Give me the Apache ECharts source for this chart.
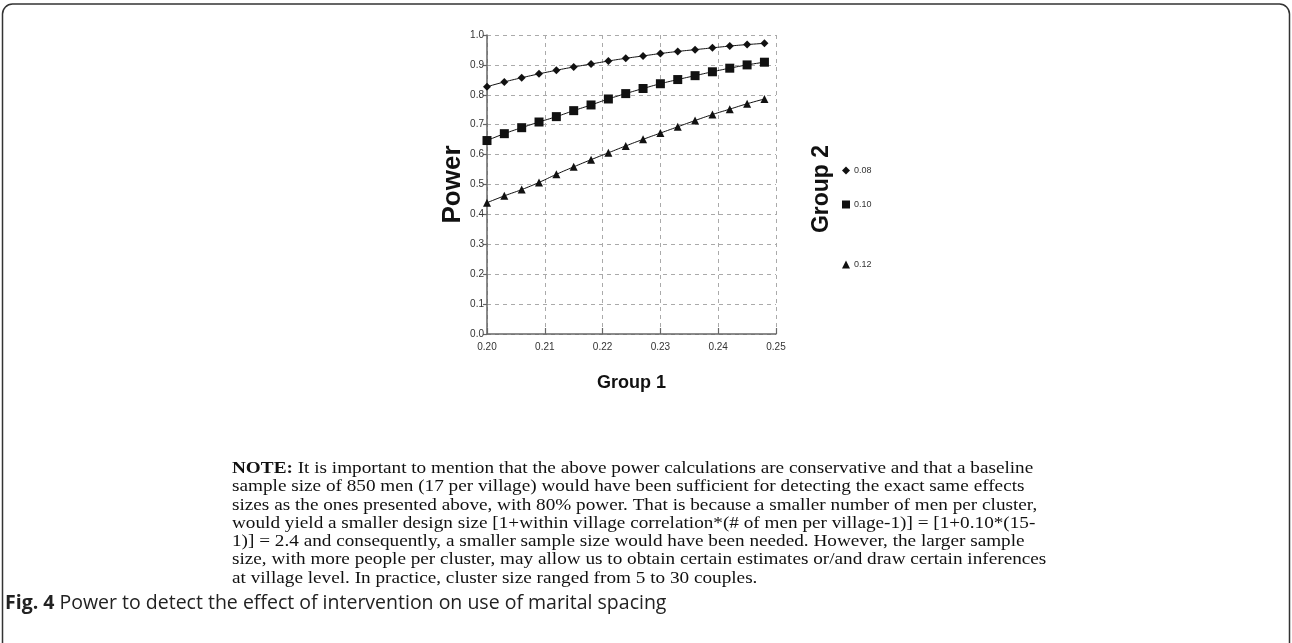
<!DOCTYPE html>
<html>
<head>
<meta charset="utf-8">
<script src="https://cdn.jsdelivr.net/npm/echarts@6/dist/echarts.min.js"></script>
<style>
html,body{margin:0;padding:0;background:#fff;}
#c{width:1292px;height:643px;}
</style>
</head>
<body>
<div id="c"></div>
<script>
var group1 = [0.200,0.203,0.206,0.209,0.212,0.215,0.218,0.221,0.224,0.227,0.230,0.233,0.236,0.239,0.242,0.245,0.248];
var power008 = [0.827,0.843,0.857,0.870,0.882,0.893,0.903,0.913,0.922,0.930,0.938,0.945,0.951,0.957,0.963,0.968,0.972];
var power010 = [0.647,0.670,0.690,0.709,0.727,0.747,0.766,0.786,0.804,0.821,0.837,0.851,0.864,0.877,0.889,0.900,0.909];
var power012 = [0.439,0.462,0.483,0.507,0.534,0.559,0.583,0.606,0.629,0.651,0.672,0.693,0.714,0.734,0.752,0.770,0.786];
var seriesNames = ['0.08','0.10','0.12'];
var xTicks = ['0.20','0.21','0.22','0.23','0.24','0.25'];
var noteLines = [
  '{b|NOTE:} It is important to mention that the above power calculations are conservative and that a baseline',
  'sample size of 850 men (17 per village) would have been sufficient for detecting the exact same effects',
  'sizes as the ones presented above, with 80% power. That is because a smaller number of men per cluster,',
  'would yield a smaller design size [1+within village correlation*(# of men per village-1)] = [1+0.10*(15-',
  '1)] = 2.4 and consequently, a smaller sample size would have been needed. However, the larger sample',
  'size, with more people per cluster, may allow us to obtain certain estimates or/and draw certain inferences',
  'at village level. In practice, cluster size ranged from 5 to 30 couples.'
];
var captionBold = 'Fig. 4';
var captionText = 'Power to detect the effect of intervention on use of marital spacing';

function pairs(xs, ys){ return xs.map(function(x,i){ return [x, ys[i]]; }); }

var chart = echarts.init(document.getElementById('c'));
var symbols = ['diamond','rect','triangle'];
var symSizes = [8,9,8];
var dataSets = [power008, power010, power012];
var series = dataSets.map(function(d,i){
  return {
    name: seriesNames[i], type:'line', data: pairs(group1, d),
    smooth: true, symbol: symbols[i], symbolSize: symSizes[i],
    lineStyle:{color:'#111', width:1}, itemStyle:{color:'#111'}, z: 5
  };
});
var legendTops = [161, 195, 255];
var legends = seriesNames.map(function(n,i){
  return {
    data:[{name:n, icon:symbols[i]}], left: 837, top: legendTops[i], orient:'vertical',
    itemWidth: 8, itemHeight: 8, itemGap: 4,
    textStyle:{fontFamily:'Liberation Sans, Arial', fontSize:9, color:'#333', padding:[0,0,0,-1]},
    selectedMode:false
  };
});
var textGraphics = noteLines.map(function(t,i){
  return {
    type:'text', x: 232, y: 460 + i*18.3, scaleX: 1.13, originX: 0, originY: 0,
    style:{ text: t, font: '17px "Liberation Serif"', fill:'#111', verticalAlign:'top',
      rich:{ b:{ fontWeight:'bold', fontFamily:'Liberation Serif', fontSize:17, fill:'#111' } } }
  };
});
var graphics = [
  { type:'rect', shape:{x:2.5, y:4, width:1287, height:700, r:10}, style:{fill:'none', stroke:'#333', lineWidth:1.5}, silent:true },
  { type:'text', x: 822, y: 189, rotation: Math.PI/2, style:{ text:'Group 2', font:'bold 23px "Liberation Sans"', fill:'#111', align:'center', verticalAlign:'middle' } },
  { type:'text', x: 5, y: 593, style:{ text: '{b|'+captionBold+'} ' + captionText, font:'19.5px "Open Sans"', fill:'#222', verticalAlign:'top',
      rich:{ b:{ fontWeight:'bold', fontFamily:'Open Sans', fontSize:19.5, fill:'#222' } } } }
].concat(textGraphics);

chart.setOption({
  animation:false,
  backgroundColor:'#fff',
  grid:{ left:487, right:516, top:35, bottom:309, containLabel:false },
  xAxis:{
    type:'value', min:0.20, max:0.25, interval:0.01,
    name:'Group 1', nameLocation:'middle', nameGap:40,
    nameTextStyle:{ fontFamily:'Liberation Sans', fontWeight:'bold', fontSize:18, color:'#111' },
    axisLine:{ lineStyle:{ color:'#666', width:1.5 } },
    axisTick:{ inside:true, length:6, lineStyle:{ color:'#666', width:1.2 } },
    axisLabel:{ formatter:function(v){ return xTicks[Math.round((v-0.20)/0.01)]; }, fontFamily:'Liberation Sans', fontSize:10, color:'#333', margin:8 },
    splitLine:{ show:true, lineStyle:{ color:'#aaa', type:[4,4], width:1 } }
  },
  yAxis:{
    type:'value', min:0, max:1, interval:0.1,
    name:'Power', nameLocation:'middle', nameGap:15,
    nameTextStyle:{ fontFamily:'Liberation Sans', fontWeight:'bold', fontSize:26, color:'#111' },
    axisLine:{ show:true, lineStyle:{ color:'#666', width:1.5 } },
    axisTick:{ show:true, length:4, lineStyle:{ color:'#666', width:1.2 } },
    axisLabel:{ formatter:function(v){ return v.toFixed(1); }, fontFamily:'Liberation Sans', fontSize:10, color:'#333', margin:3 },
    splitLine:{ show:true, lineStyle:{ color:'#aaa', type:[4,4], width:1 } }
  },
  legend: legends,
  graphic: graphics,
  series: series
});
</script>
</body>
</html>
